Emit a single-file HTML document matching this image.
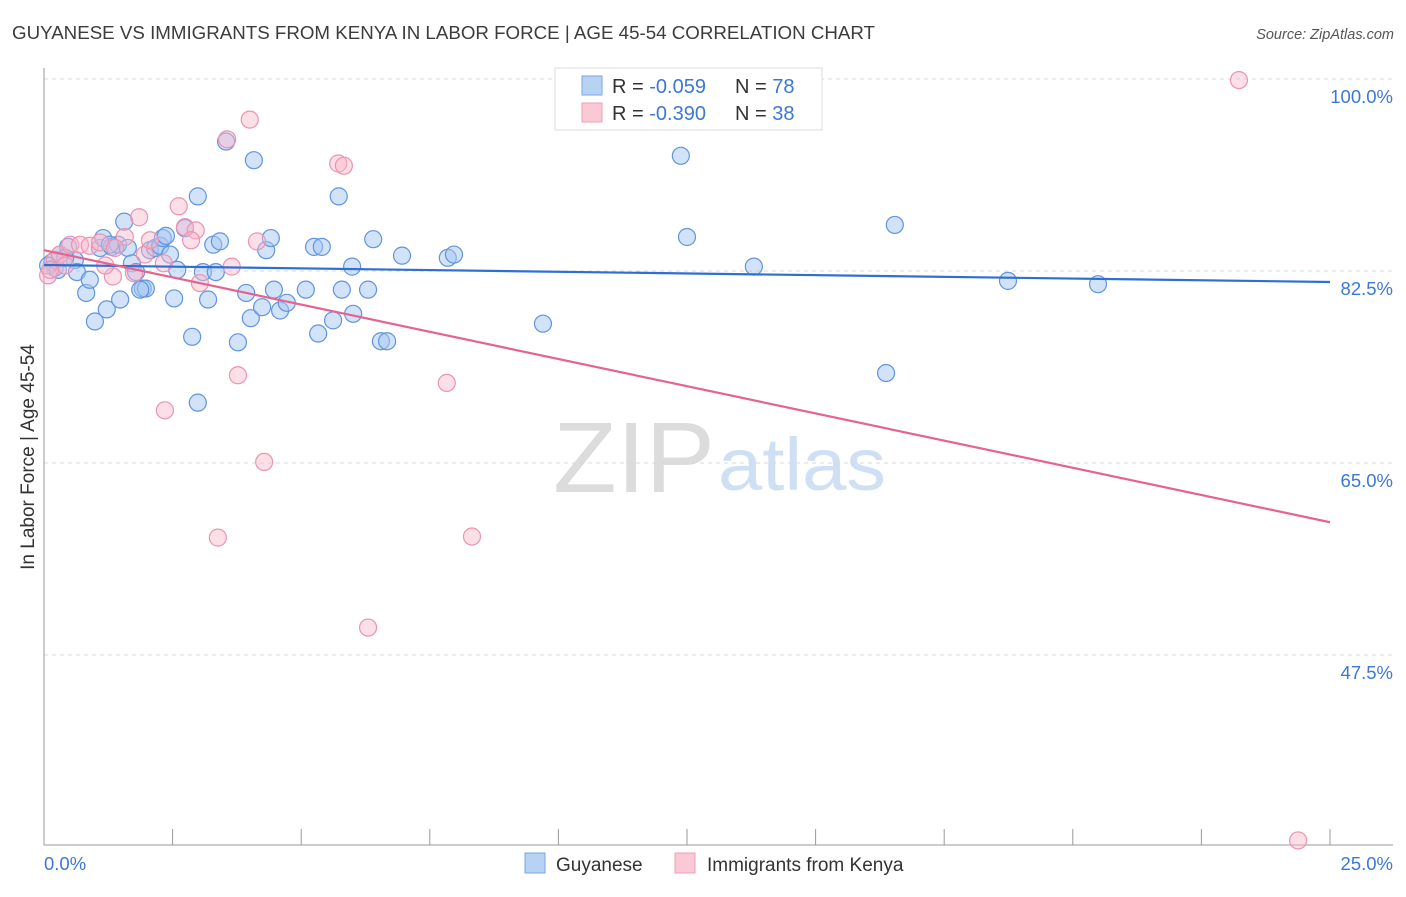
<!DOCTYPE html>
<html><head><meta charset="utf-8"><style>
body{margin:0;background:#fff;width:1406px;height:892px;overflow:hidden;font-family:"Liberation Sans",sans-serif}
svg text{font-family:"Liberation Sans",sans-serif}
</style></head><body>
<svg id="chart" width="1406" height="892" xmlns="http://www.w3.org/2000/svg">
<text x="12" y="39" font-size="18" fill="#3c3c3c" textLength="863" lengthAdjust="spacingAndGlyphs">GUYANESE VS IMMIGRANTS FROM KENYA IN LABOR FORCE | AGE 45-54 CORRELATION CHART</text>
<text x="1394" y="39" font-size="14.5" fill="#555" text-anchor="end" font-style="italic">Source: ZipAtlas.com</text>
<text x="553" y="492" font-size="100" fill="#dcdcdc" font-family="Liberation Serif, serif" textLength="162" lengthAdjust="spacingAndGlyphs">ZIP</text>
<text x="718" y="490" font-size="74" fill="#cfe0f4" textLength="168" lengthAdjust="spacingAndGlyphs">atlas</text>
<g id="grid"></g>
<g id="axes"></g>
<g id="pts"></g>
<g id="trends"></g>
<text transform="translate(34,457) rotate(-90)" font-size="19" fill="#333" text-anchor="middle">In Labor Force | Age 45-54</text>
<g>
<rect x="555" y="68" width="267" height="62" fill="#fff" stroke="#ddd"/>
<rect x="582" y="76" width="20" height="19" fill="#b8d2f4" stroke="#7aa6e6"/>
<rect x="582" y="103" width="20" height="19" fill="#fbc8d6" stroke="#ee9fb8"/>
<text x="612" y="93" font-size="20" fill="#333">R = <tspan fill="#3b78d6">-0.059</tspan><tspan x="735">N = </tspan><tspan fill="#3b78d6">78</tspan></text>
<text x="612" y="120" font-size="20" fill="#333">R = <tspan fill="#3b78d6">-0.390</tspan><tspan x="735">N = </tspan><tspan fill="#3b78d6">38</tspan></text>
</g>
<g>
<rect x="525" y="853" width="20" height="20" fill="#b8d2f4" stroke="#7aa6e6"/>
<text x="556" y="871" font-size="19" fill="#333">Guyanese</text>
<rect x="675" y="853" width="20" height="20" fill="#fbc8d6" stroke="#ee9fb8"/>
<text x="707" y="871" font-size="19" fill="#333">Immigrants from Kenya</text>
</g>
</svg>
<script>
const yTicks=[100,82.5,65,47.5];
const yTickLabels=["100.0%","82.5%","65.0%","47.5%"];
const xTicks=[0,2.5,5,7.5,10,12.5,15,17.5,20,22.5,25];
const blueX=[0.21,0.16,0.31,0.47,0.60,0.64,0.82,0.89,0.99,1.09,1.15,1.22,1.32,1.44,1.48,1.56,1.63,1.71,1.79,1.92,1.98,2.06,2.16,2.26,2.31,2.37,2.45,2.53,2.59,2.88,2.99,2.99,3.09,3.19,3.29,3.34,3.42,3.54,3.77,3.93,4.02,4.08,4.24,4.32,4.41,4.47,4.59,4.72,5.09,5.33,5.25,5.40,5.62,5.73,5.79,5.99,6.01,6.30,6.40,6.55,6.67,6.96,7.85,7.97,9.70,12.38,12.50,13.80,16.37,16.54,18.74,20.49,0.08,0.27,0.41,1.28,1.87,2.74];
const blueY=[82.8,83.3,84.0,84.7,83.5,82.4,80.5,81.7,77.9,84.6,85.5,79.0,84.7,84.9,79.9,87.0,84.6,83.2,82.4,80.9,80.9,84.4,84.6,84.8,85.5,85.7,84.0,80.0,82.6,76.5,89.3,70.5,82.4,79.9,84.9,82.4,85.2,94.3,76.0,80.5,78.2,92.6,79.2,84.4,85.5,80.8,78.9,79.6,80.8,76.8,84.7,84.7,78.0,89.3,80.8,82.9,78.6,80.8,85.4,76.1,76.1,83.9,83.7,84.0,77.7,93.0,85.6,82.9,73.2,86.7,81.6,81.3,83.0,82.6,83.7,84.9,80.8,86.4];
const pinkX=[23.23,4.00,3.56,5.72,5.83,2.62,1.85,2.74,2.95,2.86,1.57,4.14,3.65,2.33,1.34,1.75,3.03,0.21,0.31,0.51,0.70,0.89,1.09,1.38,3.77,7.83,2.35,4.28,3.38,8.32,6.30,24.38,0.08,0.41,1.96,1.19,2.06,0.12];
const pinkY=[99.9,96.3,94.5,92.3,92.1,88.4,87.4,86.5,86.2,85.3,85.6,85.2,82.9,83.2,82.0,82.3,81.4,83.5,84.0,84.9,84.9,84.8,85.1,84.6,73.0,72.3,69.8,65.1,58.2,58.3,50.0,30.6,82.1,83.0,84.0,83.0,85.3,82.6];
const blueTrend=[83.05,81.5];
const pinkTrend=[84.4,59.6];
const NS="http://www.w3.org/2000/svg";
function sx(v){return 44+v*(1330-44)/25;}
function sy(v){return 79+(100-v)*(192/17.5);}
function mk(tag,attrs,parent){const e=document.createElementNS(NS,tag);for(const k in attrs)e.setAttribute(k,attrs[k]);document.getElementById(parent).appendChild(e);return e;}
yTicks.forEach((t,i)=>{
 const l=mk('line',{x1:44,x2:1393,y1:sy(t),y2:sy(t),stroke:'#d8d8d8','stroke-dasharray':'4,4'},'grid');
 
 
 const tx=mk('text',{x:1393,y:sy(t)+24,'font-size':18.5,fill:'#3b78d6','text-anchor':'end'},'grid');
 tx.textContent=yTickLabels[i];
 
 
});
const ya=mk('line',{x1:44,x2:44,y1:68,y2:845,stroke:'#999'},'axes');


const xa=mk('line',{x1:44,x2:1393,y1:845,y2:845,stroke:'#999'},'axes');


xTicks.forEach(t=>{
 const tk=mk('line',{x1:sx(t),x2:sx(t),y1:829,y2:845,stroke:'#999'},'axes');
 
 
});
const x0=mk('text',{x:44,y:870,'font-size':18.5,fill:'#3b78d6'},'axes');x0.textContent='0.0%';


const x1=mk('text',{x:1393,y:870,'font-size':18.5,fill:'#3b78d6','text-anchor':'end'},'axes');x1.textContent='25.0%';


blueX.forEach((v,i)=>{
 const c=mk('circle',{cx:sx(v),cy:sy(blueY[i]),r:8.5,fill:'rgba(165,198,242,0.5)',stroke:'#5f95e0','stroke-width':1.2},'pts');
 
 
});
pinkX.forEach((v,i)=>{
 const c=mk('circle',{cx:sx(v),cy:sy(pinkY[i]),r:8.5,fill:'rgba(250,185,205,0.45)',stroke:'#ec93b0','stroke-width':1.2},'pts');
 
 
});
const bl=mk('line',{x1:sx(0),x2:sx(25),y1:sy(blueTrend[0]),y2:sy(blueTrend[1]),stroke:'#2f6fd3','stroke-width':2.2},'trends');


const pl=mk('line',{x1:sx(0),x2:sx(25),y1:sy(pinkTrend[0]),y2:sy(pinkTrend[1]),stroke:'#e4648f','stroke-width':2.2},'trends');


</script>
</body></html>
